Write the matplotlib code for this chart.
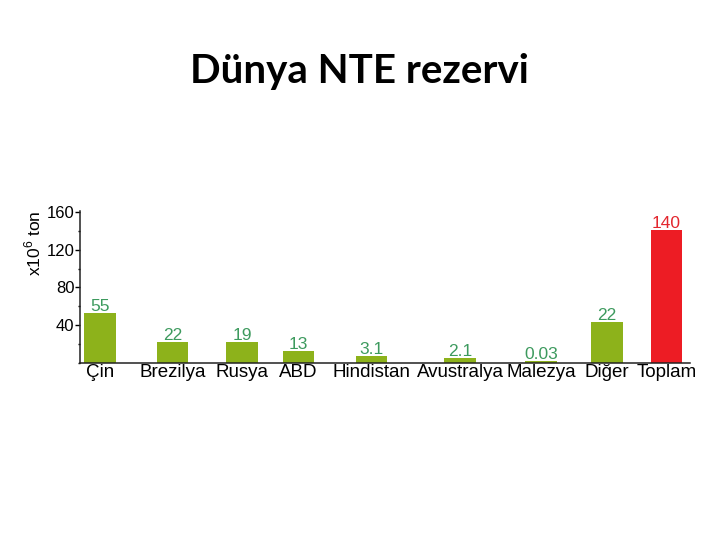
import matplotlib.pyplot as plt
from matplotlib.ticker import FixedLocator, MultipleLocator

plt.rcParams['font.family'] = ['Liberation Sans', 'DejaVu Sans']

countries = ['Çin', 'Brezilya', 'Rusya', 'ABD', 'Hindistan', 'Avustralya', 'Malezya', 'Diğer', 'Toplam']
bar_heights = [53, 22, 22, 12.5, 7.5, 5, 2, 43, 140.5]
value_labels = ['55', '22', '19', '13', '3.1', '2.1', '0.03', '22', '140']
y_ticks = [40, 80, 120, 160]

# bar centres, in pixel units of the axes (xlim 80..690)
x_pos = [100, 172.5, 242, 298.5, 371.5, 460, 541, 607, 666.5]

green = '#8db21b'
red = '#ed1c24'
bar_colors = [green] * 8 + [red]
text_colors = ['#3d9a5e'] * 8 + ['#e3262e']

W, H = 720, 540
fig = plt.figure(figsize=(W / 100, H / 100), dpi=100)
ax = fig.add_axes([80 / W, (H - 363) / H, 610 / W, (363 - 210.5) / H])

ax.bar(x_pos, bar_heights, width=31.5, color=bar_colors)
for x, h, lab, c in zip(x_pos, bar_heights, value_labels, text_colors):
    ax.annotate(lab, (x, h), xytext=(0, 1.6), textcoords='offset points',
                ha='center', va='baseline', fontsize=12.5, color=c)

ax.set_xlim(80, 690)
ax.set_ylim(0, 161.5)
ax.set_xticks(x_pos, countries)
ax.yaxis.set_major_locator(FixedLocator(y_ticks))
ax.yaxis.set_minor_locator(MultipleLocator(20))

for s in ['top', 'right']:
    ax.spines[s].set_visible(False)
for s in ['left', 'bottom']:
    ax.spines[s].set_linewidth(1.1)
    ax.spines[s].set_color('#222222')

ax.tick_params(axis='x', length=0, pad=1, labelsize=13.5)
ax.tick_params(axis='y', which='major', direction='out', length=3.6, width=1,
               pad=0.5, labelsize=12)
ax.tick_params(axis='y', which='minor', direction='out', length=1.5, width=1)

fig.text(33 / W, 1 - 243 / H, 'x10$^{\\mathregular{6}}$ ton', rotation=90,
         ha='center', va='center', fontsize=12.5)

fig.text(359 / W, 1 - 72 / H, 'Dünya NTE rezervi', ha='center', va='center',
         fontsize=29, fontweight='bold', family=['Lato', 'DejaVu Sans'])

fig.savefig('out.png', dpi=100)
